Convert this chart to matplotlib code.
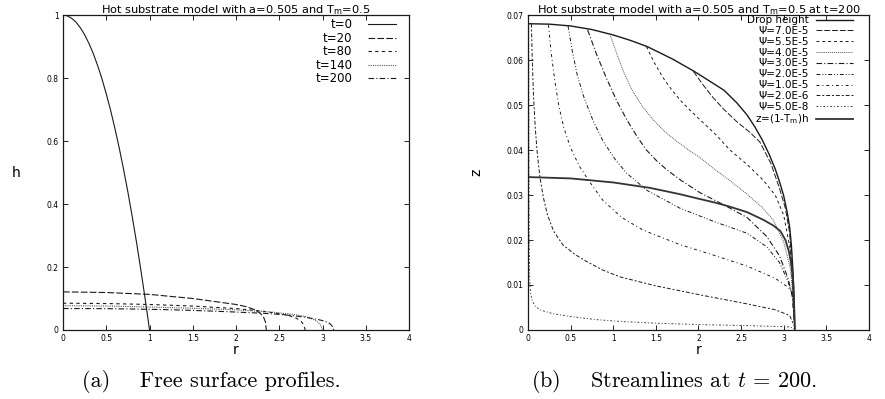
import matplotlib
matplotlib.use('Agg')
import matplotlib.pyplot as plt
from matplotlib.ticker import FuncFormatter, MultipleLocator

# (a) 自由表面轮廓 h(r)
r_t0 = [0, 0.05, 0.1, 0.15, 0.2, 0.25, 0.3, 0.35, 0.4, 0.45, 0.5, 0.55, 0.6, 0.65, 0.7,
        0.75, 0.8, 0.85, 0.9, 0.95, 1.0]
h_t0 = [1.0, 0.998, 0.99, 0.978, 0.96, 0.938, 0.91, 0.878, 0.84, 0.798, 0.75, 0.698, 0.64,
        0.578, 0.51, 0.438, 0.36, 0.278, 0.19, 0.098, 0.0]
r_t20 = [0, 0.5, 1.0, 1.5, 2.0, 2.12, 2.22, 2.28, 2.32, 2.34, 2.35]
h_t20 = [0.121, 0.119, 0.113, 0.1, 0.081, 0.074, 0.064, 0.053, 0.04, 0.025, 0.0]
r_t80 = [0, 0.5, 1.0, 1.5, 2.0, 2.3, 2.5, 2.62, 2.7, 2.75, 2.78, 2.8]
h_t80 = [0.085, 0.084, 0.081, 0.076, 0.068, 0.06, 0.052, 0.045, 0.037, 0.028, 0.018, 0.0]
r_t140 = [0, 0.5, 1.0, 1.5, 2.0, 2.4, 2.65, 2.8, 2.9, 2.95, 2.98, 3.0]
h_t140 = [0.077, 0.076, 0.073, 0.069, 0.064, 0.057, 0.05, 0.043, 0.033, 0.024, 0.015, 0.0]
# t=200 的液滴高度（左图与右图共用）
r_t200 = [0, 0.25, 0.5, 0.75, 1.0, 1.2, 1.4, 1.7, 1.95, 2.15, 2.3, 2.45, 2.57, 2.66, 2.75,
          2.83, 2.9, 2.95, 3.0, 3.04, 3.07, 3.09, 3.11, 3.12, 3.13]
h_t200 = [0.0681, 0.068, 0.0676, 0.0668, 0.0656, 0.0644, 0.063, 0.0602, 0.0575, 0.0551,
          0.0533, 0.0505, 0.0478, 0.0452, 0.0422, 0.039, 0.0358, 0.033, 0.0298, 0.0262,
          0.0228, 0.0188, 0.0125, 0.0075, 0.0]

# (b) t=200 时的流线
r_melt = [0, 0.5, 1.0, 1.43, 1.78, 2.02, 2.2, 2.37, 2.57, 2.76, 2.88, 2.96, 3.02, 3.06,
          3.09, 3.11, 3.12, 3.13]
z_melt = [0.034, 0.0337, 0.0328, 0.0316, 0.0302, 0.0291, 0.0283, 0.0274, 0.0262, 0.0245,
          0.0232, 0.022, 0.02, 0.0175, 0.0145, 0.011, 0.007, 0.0]

r_psi_70 = [1.94, 2.05, 2.17, 2.3, 2.45, 2.6, 2.72, 2.85, 2.95, 3.02, 3.07, 3.1, 3.12]
z_psi_70 = [0.0575, 0.0546, 0.0517, 0.049, 0.0463, 0.044, 0.0418, 0.037, 0.0315, 0.027,
            0.0215, 0.012, 0.005]
r_psi_55 = [1.39, 1.48, 1.58, 1.69, 1.8, 1.91, 2.02, 2.2, 2.37, 2.57, 2.76, 2.9, 3.0, 3.07,
            3.1, 3.12]
z_psi_55 = [0.063, 0.0595, 0.0562, 0.0533, 0.0508, 0.0487, 0.0467, 0.0435, 0.04, 0.0368,
            0.0333, 0.03, 0.0255, 0.0185, 0.011, 0.004]
r_psi_40 = [0.96, 1.04, 1.13, 1.23, 1.35, 1.47, 1.6, 1.74, 1.9, 2.02, 2.17, 2.37, 2.57,
            2.75, 2.88, 3.0, 3.08, 3.11, 3.125]
z_psi_40 = [0.0658, 0.0615, 0.057, 0.053, 0.0495, 0.0467, 0.0442, 0.042, 0.0398, 0.0383,
            0.036, 0.0332, 0.0302, 0.0272, 0.0244, 0.0195, 0.0135, 0.007, 0.002]
r_psi_30 = [0.7, 0.8, 0.92, 1.04, 1.16, 1.28, 1.39, 1.51, 1.63, 1.8, 2.02, 2.3, 2.57, 2.8,
            2.95, 3.05, 3.1, 3.125]
z_psi_30 = [0.0667, 0.0615, 0.056, 0.051, 0.0467, 0.043, 0.04, 0.0376, 0.0356, 0.0332,
            0.0305, 0.0278, 0.025, 0.0208, 0.0165, 0.0115, 0.0075, 0.002]
r_psi_20 = [0.47, 0.52, 0.58, 0.66, 0.76, 0.88, 1.02, 1.16, 1.4, 1.78, 2.17, 2.57, 2.8,
            2.95, 3.05, 3.1, 3.125]
z_psi_20 = [0.0676, 0.062, 0.0565, 0.0515, 0.0467, 0.042, 0.038, 0.0348, 0.031, 0.0271,
            0.0242, 0.0215, 0.0185, 0.015, 0.0108, 0.0078, 0.002]
r_psi_10 = [0.24, 0.27, 0.31, 0.36, 0.42, 0.5, 0.6, 0.72, 0.88, 1.1, 1.35, 1.78, 2.2, 2.57,
            2.9, 3.05, 3.11, 3.125]
z_psi_10 = [0.0678, 0.062, 0.056, 0.05, 0.045, 0.0405, 0.0365, 0.033, 0.0288, 0.025,
            0.0222, 0.019, 0.0165, 0.0142, 0.0115, 0.0095, 0.0082, 0.002]
r_psi_02 = [0.04, 0.05, 0.065, 0.085, 0.11, 0.14, 0.18, 0.23, 0.3, 0.41, 0.55, 0.69, 0.88,
            1.08, 1.5, 2.02, 2.57, 2.9, 3.07, 3.12]
z_psi_02 = [0.0681, 0.06, 0.052, 0.045, 0.039, 0.034, 0.0295, 0.0255, 0.022, 0.0189,
            0.0168, 0.0152, 0.0133, 0.0118, 0.0098, 0.0078, 0.0058, 0.0045, 0.0032, 0.001]
r_psi_00 = [0.008, 0.01, 0.012, 0.015, 0.02, 0.03, 0.05, 0.08, 0.13, 0.2, 0.3, 0.5, 0.8,
            1.08, 1.5, 2.02, 2.5, 3.07, 3.12]
z_psi_00 = [0.0681, 0.05, 0.03, 0.018, 0.011, 0.0082, 0.0065, 0.0054, 0.0046, 0.0041,
            0.0036, 0.003, 0.0023, 0.0019, 0.0015, 0.0012, 0.001, 0.0007, 0.0003]

ink = '#1a1a1a'
fmt = FuncFormatter(lambda v, p: '%g' % round(v, 6))

fig = plt.figure(figsize=(8.85, 3.99), dpi=100)
ax1 = fig.add_axes([0.0712, 0.173, 0.391, 0.789])
ax2 = fig.add_axes([0.5966, 0.173, 0.3853, 0.789])

for ax in (ax1, ax2):
    ax.tick_params(direction='in', length=3.5, width=0.6, top=True, right=True,
                   labelsize=5.5, pad=3)
    for s in ax.spines.values():
        s.set_linewidth(0.9)
        s.set_color(ink)
    ax.set_xlim(0, 4)
    ax.xaxis.set_major_locator(MultipleLocator(0.5))
    ax.xaxis.set_major_formatter(fmt)
    ax.yaxis.set_major_formatter(fmt)
    ax.set_xlabel('r', fontsize=10, labelpad=0)

# 左图
ax1.set_ylim(0, 1)
ax1.yaxis.set_major_locator(MultipleLocator(0.2))
ax1.plot(r_t0, h_t0, color=ink, lw=0.8, label='t=0')
ax1.plot(r_t20, h_t20, color=ink, lw=0.8, ls=(0, (6, 2)), label='t=20')
ax1.plot(r_t80, h_t80, color=ink, lw=0.8, ls=(0, (3, 3)), label='t=80')
ax1.plot(r_t140, h_t140, color='#555555', lw=0.8, ls=(0, (1, 1)), label='t=140')
ax1.plot(r_t200, h_t200, color=ink, lw=0.8, ls=(0, (5, 2, 1, 2)), label='t=200')
ax1.set_title('Hot substrate model with a=0.505 and T$_\\mathrm{m}$=0.5', fontsize=8.2,
              pad=1.5)
ax1.set_ylabel('h', fontsize=10, rotation=0, labelpad=22, va='center')
ax1.legend(loc='upper right', bbox_to_anchor=(0.962, 0.99), frameon=False,
           markerfirst=False, fontsize=8.5, handlelength=2.4, handletextpad=1.3,
           labelspacing=0.04, borderaxespad=0, borderpad=0)

# 右图
ax2.set_ylim(0, 0.07)
ax2.yaxis.set_major_locator(MultipleLocator(0.01))
ax2.plot(r_t200, h_t200, color=ink, lw=1.0, label='Drop height')
ax2.plot(r_psi_70, z_psi_70, color=ink, lw=0.7, ls=(0, (6, 2)), label='Ψ=7.0E-5')
ax2.plot(r_psi_55, z_psi_55, color=ink, lw=0.7, ls=(0, (3, 3)), label='Ψ=5.5E-5')
ax2.plot(r_psi_40, z_psi_40, color='#555555', lw=0.7, ls=(0, (1, 1)), label='Ψ=4.0E-5')
ax2.plot(r_psi_30, z_psi_30, color=ink, lw=0.8, ls=(0, (5, 2, 1, 2)), label='Ψ=3.0E-5')
ax2.plot(r_psi_20, z_psi_20, color=ink, lw=0.7, ls=(0, (4, 2, 1, 2, 1, 2)), label='Ψ=2.0E-5')
ax2.plot(r_psi_10, z_psi_10, color=ink, lw=0.7, ls=(0, (3, 3, 1, 3)), label='Ψ=1.0E-5')
ax2.plot(r_psi_02, z_psi_02, color=ink, lw=0.7, ls=(0, (4, 2, 2, 2)), label='Ψ=2.0E-6')
ax2.plot(r_psi_00, z_psi_00, color='#444444', lw=0.7, ls=(0, (2, 2, 1, 2)), label='Ψ=5.0E-8')
ax2.plot(r_melt, z_melt, color='#333333', lw=1.3, label='z=(1-T$_\\mathrm{m}$)h')
ax2.set_title('Hot substrate model with a=0.505 and T$_\\mathrm{m}$=0.5 at t=200',
              fontsize=8.2, pad=1.5)
ax2.set_ylabel('z', fontsize=10, labelpad=17)
ax2.legend(loc='upper right', bbox_to_anchor=(0.953, 1.0), frameon=False,
           markerfirst=False, fontsize=7.5, handlelength=3.5, handletextpad=0.7,
           labelspacing=0.08, borderaxespad=0, borderpad=0)

# 子图说明
fig.text(0.239, 0.043, '(a)    Free surface profiles.', fontsize=16,
         family='cmr10', ha='center', va='center')
fig.text(0.762, 0.043, '(b)    Streamlines at $t$ = 200.', fontsize=16,
         family='cmr10', math_fontfamily='cm', ha='center', va='center')

fig.savefig('out.png', dpi=100)
